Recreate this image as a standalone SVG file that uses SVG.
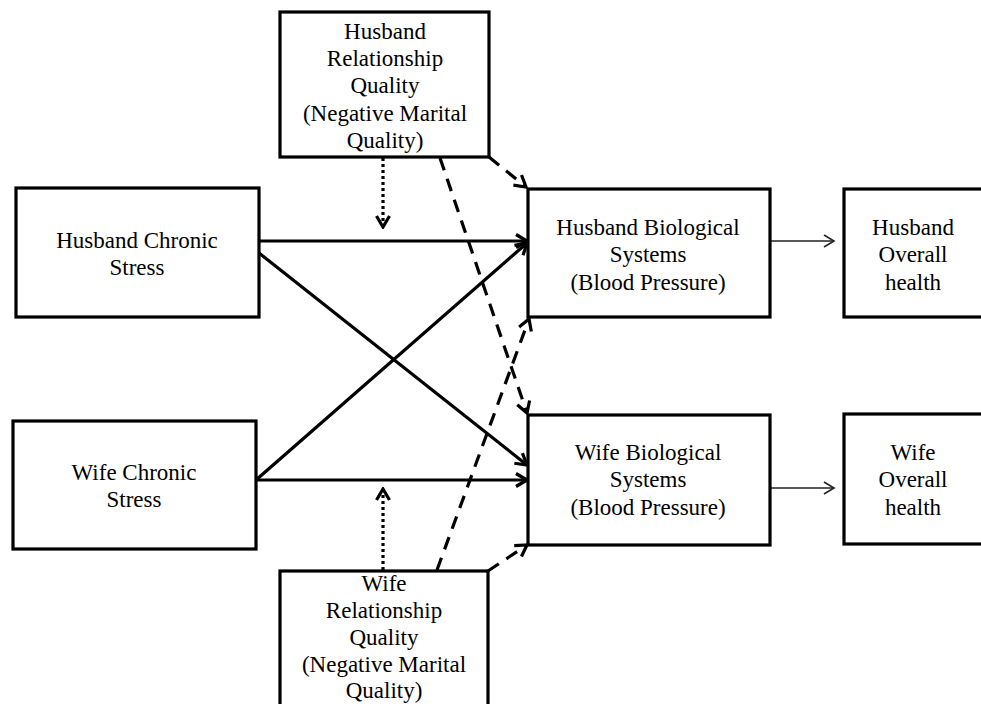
<svg xmlns="http://www.w3.org/2000/svg" width="981" height="704" viewBox="0 0 981 704">
<style>
.box{fill:#fff;stroke:#000;stroke-width:3.2}
.t{font-family:"Liberation Serif","Times New Roman",serif;font-size:23px;fill:#000;text-anchor:middle}
.solid{stroke:#000;stroke-width:3.2;fill:none}
.dash{stroke:#000;stroke-width:3.2;fill:none;stroke-dasharray:13 9}
.dot{stroke:#000;stroke-width:3.2;fill:none;stroke-dasharray:3 3}
.thin{stroke:#222;stroke-width:1.6;fill:none}
</style>
<defs>
<marker id="ah" viewBox="-14 -8 16 16" refX="0" refY="0" markerWidth="16" markerHeight="16" markerUnits="userSpaceOnUse" orient="auto">
<path d="M-11,-6.5 L0,0 L-11,6.5" fill="none" stroke="#000" stroke-width="3.2" stroke-dasharray="none"/>
</marker>
<marker id="ahs" viewBox="-14 -8 16 16" refX="0" refY="0" markerWidth="16" markerHeight="16" markerUnits="userSpaceOnUse" orient="auto">
<path d="M-10,-6 L0,0 L-10,6" fill="none" stroke="#222" stroke-width="1.6" stroke-dasharray="none"/>
</marker>
</defs>
<rect width="981" height="704" fill="#fff"/>
<g id="connectors">
<line class="solid" x1="259" y1="241" x2="527" y2="241" marker-end="url(#ah)"/>
<line class="solid" x1="259" y1="253" x2="527" y2="465" marker-end="url(#ah)"/>
<line class="solid" x1="256" y1="480" x2="527" y2="243" marker-end="url(#ah)"/>
<line class="solid" x1="256" y1="480" x2="527" y2="480" marker-end="url(#ah)"/>
<line class="dot" x1="383" y1="158" x2="383" y2="227" marker-end="url(#ah)"/>
<line class="dot" x1="383" y1="570" x2="383" y2="489" marker-end="url(#ah)"/>
<line class="dash" x1="489" y1="157" x2="526" y2="187" marker-end="url(#ah)"/>
<line class="dash" x1="440" y1="158" x2="527" y2="413" marker-end="url(#ah)"/>
<line class="dash" x1="437" y1="570" x2="529" y2="319" marker-end="url(#ah)"/>
<line class="dash" x1="488" y1="571" x2="527" y2="545" marker-end="url(#ah)"/>
<line class="thin" x1="770" y1="241" x2="834" y2="241" marker-end="url(#ahs)"/>
<line class="thin" x1="770" y1="488" x2="834" y2="488" marker-end="url(#ahs)"/>
</g>
<g id="husband-rq">
<rect class="box" x="280" y="12" width="209" height="145"/>
<text class="t" x="385" y="39">Husband</text>
<text class="t" x="385" y="66">Relationship</text>
<text class="t" x="385" y="93">Quality</text>
<text class="t" x="385" y="121">(Negative Marital</text>
<text class="t" x="385" y="148">Quality)</text>
</g>
<g id="husband-stress">
<rect class="box" x="16" y="188" width="243" height="129"/>
<text class="t" x="137" y="248">Husband Chronic</text>
<text class="t" x="137" y="275">Stress</text>
</g>
<g id="husband-bio">
<rect class="box" x="528" y="189" width="242" height="128"/>
<text class="t" x="648" y="235">Husband Biological</text>
<text class="t" x="648" y="262">Systems</text>
<text class="t" x="648" y="290">(Blood Pressure)</text>
</g>
<g id="husband-health">
<rect class="box" x="844" y="189" width="142" height="128"/>
<text class="t" x="913" y="235">Husband</text>
<text class="t" x="913" y="262">Overall</text>
<text class="t" x="913" y="290">health</text>
</g>
<g id="wife-stress">
<rect class="box" x="13" y="421" width="243" height="128"/>
<text class="t" x="134" y="480">Wife Chronic</text>
<text class="t" x="134" y="507">Stress</text>
</g>
<g id="wife-bio">
<rect class="box" x="528" y="415" width="242" height="130"/>
<text class="t" x="648" y="460">Wife Biological</text>
<text class="t" x="648" y="487">Systems</text>
<text class="t" x="648" y="515">(Blood Pressure)</text>
</g>
<g id="wife-health">
<rect class="box" x="844" y="414" width="142" height="130"/>
<text class="t" x="913" y="460">Wife</text>
<text class="t" x="913" y="487">Overall</text>
<text class="t" x="913" y="515">health</text>
</g>
<g id="wife-rq">
<rect class="box" x="280" y="571" width="208" height="145"/>
<text class="t" x="384" y="591">Wife</text>
<text class="t" x="384" y="618">Relationship</text>
<text class="t" x="384" y="645">Quality</text>
<text class="t" x="384" y="672">(Negative Marital</text>
<text class="t" x="384" y="698">Quality)</text>
</g>
</svg>
